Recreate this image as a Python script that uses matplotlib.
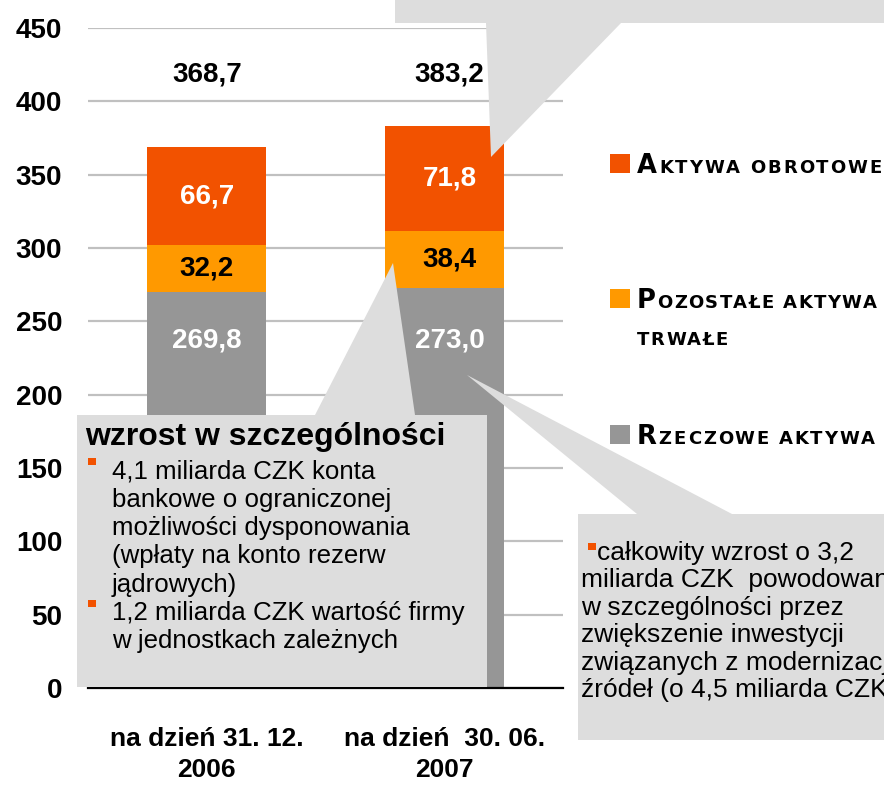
import matplotlib
matplotlib.use('Agg')
import matplotlib.pyplot as plt
from matplotlib.patches import Polygon, Rectangle
from matplotlib.font_manager import findfont, FontProperties, get_font
import numpy as np

# ---------------- data ----------------
categories = ['na dzień 31. 12.\n2006', 'na dzień  30. 06.\n2007']
rzeczowe = [269.8, 273.0]      # grey
pozostale = [32.2, 38.4]       # amber
obrotowe = [66.7, 71.8]        # orange
totals = [368.7, 383.2]
y_ticks = [0, 50, 100, 150, 200, 250, 300, 350, 400, 450]
y_tick_labels = ['0', '50', '100', '150', '200', '250', '300', '350', '400', '450']
value_fmt = lambda v: f'{v:.1f}'.replace('.', ',')

left_title = 'wzrost w szczególności'
left_lines = ['4,1 miliarda CZK konta', 'bankowe o ograniczonej',
              'możliwości dysponowania', '(wpłaty na konto rezerw',
              'jądrowych)', '1,2 miliarda CZK wartość firmy',
              'w jednostkach zależnych']
left_bullets = [0, 5]
right_lines = ['całkowity wzrost o 3,2', 'miliarda CZK  powodowany',
               'w szczególności przez', 'zwiększenie inwestycji',
               'związanych z modernizacją', 'źródeł (o 4,5 miliarda CZK)']

C_OR = '#F25200'
C_AM = '#FF9900'
C_GR = '#969696'
C_CALL = '#DDDDDD'
C_GRID = '#C0C0C0'

W, H = 884, 786
DPI = 100
fig = plt.figure(figsize=(W / DPI, H / DPI), dpi=DPI)
ax = fig.add_axes([88 / W, (H - 688) / H, (563 - 88) / W, 660 / H])

x = np.arange(len(categories))
bw = 0.5
b1 = np.array(rzeczowe)
b2 = b1 + np.array(pozostale)
ax.bar(x, rzeczowe, width=bw, color=C_GR, zorder=2)
ax.bar(x, pozostale, width=bw, bottom=b1, color=C_AM, zorder=2)
ax.bar(x, obrotowe, width=bw, bottom=b2, color=C_OR, zorder=2)

ax.set_xlim(-0.5, 1.5)
ax.set_ylim(0, 450)
ax.set_yticks(y_ticks)
ax.set_yticklabels(y_tick_labels, fontsize=20, fontweight='bold', family='Liberation Sans')
ax.set_xticks(x)
ax.set_xticklabels(categories, fontsize=19, fontweight='bold', family='Liberation Sans',
                   linespacing=1.38)
ax.tick_params(axis='y', length=0, pad=18.5)
ax.tick_params(axis='x', length=0, pad=28)
ax.yaxis.grid(True, color=C_GRID, lw=1.6)
ax.set_axisbelow(True)
for s in ['left', 'right', 'top']:
    ax.spines[s].set_visible(False)
ax.spines['bottom'].set_color('black')
ax.spines['bottom'].set_linewidth(1.6)

fp = dict(fontsize=20, fontweight='bold', family='Liberation Sans', ha='center', va='center')
dx = [0.0, 0.022]
for i in range(len(x)):
    ax.text(x[i] + dx[i], 418, value_fmt(totals[i]), color='black', **fp)
    ax.text(x[i] + dx[i], b2[i] + obrotowe[i] / 2, value_fmt(obrotowe[i]), color='white', **fp)
    ax.text(x[i] + dx[i], b1[i] + pozostale[i] / 2, value_fmt(pozostale[i]), color='black', **fp)
    ax.text(x[i] + dx[i], 237, value_fmt(rzeczowe[i]), color='white', **fp)

# ---------------- overlay (pixel coords) ----------------
ov = fig.add_axes([0, 0, 1, 1], zorder=5)
ov.set_xlim(0, W)
ov.set_ylim(H, 0)
ov.axis('off')

callouts = [
    [(395, -5), (895, -5), (895, 23), (621, 23), (491, 157), (486, 23), (395, 23)],
    [(77, 415), (315, 415), (393, 263), (415, 415), (487, 415), (487, 687), (77, 687)],
    [(578, 514), (637, 514), (467, 375), (732, 514), (895, 514), (895, 740), (578, 740)],
]
for poly in callouts:
    ov.add_patch(Polygon(poly, closed=True, facecolor=C_CALL, edgecolor='none'))

tf = dict(family='Liberation Sans', va='baseline', ha='left', color='black')
ov.text(85, 445, left_title, fontsize=23, fontweight='bold', **tf)
lbase = [478, 507, 535, 563, 592, 620, 648]
for i, (ln, yb) in enumerate(zip(left_lines, lbase)):
    ov.text(112, yb, ln, fontsize=18.6, **tf)
    if i in left_bullets:
        ov.add_patch(Rectangle((88, yb - 20), 8, 7, facecolor=C_OR, edgecolor='none'))

rbase = [560, 587, 615, 642, 670, 697]
for i, (ln, yb) in enumerate(zip(right_lines, rbase)):
    xs = 597 if i == 0 else 581
    ov.text(xs, yb, ln, fontsize=19, **tf)
ov.add_patch(Rectangle((588, 543), 8, 7, facecolor=C_OR, edgecolor='none'))

# ---------------- legend with tracked small caps ----------------
LFONT = FontProperties(family='DejaVu Sans', weight='bold')
ftfont = get_font(findfont(LFONT))


def advance(ch, size):
    ftfont.set_size(size, DPI)
    g = ftfont.load_char(ord(ch))
    return g.linearHoriAdvance / 65536.0


def smallcaps_line(x0, yb, big, rest, x_end, bigsize=18.5, smallsize=13):
    chars = [(big, bigsize)] if big else []
    chars += [(c, smallsize) for c in rest]
    nat = sum(advance(c, s) for c, s in chars)
    gaps = len(chars) - 1
    last_adv = advance(chars[-1][0], chars[-1][1])
    track = (x_end - x0 - nat) / gaps if gaps else 0
    xx = x0
    for c, s in chars:
        if c != ' ':
            ov.text(xx, yb, c, fontsize=s, fontproperties=None, family='DejaVu Sans',
                    fontweight='bold', va='baseline', ha='left', color='black')
        xx += advance(c, s) + track


legend_items = [
    (C_OR, 154, [('A', 'KTYWA OBROTOWE', 882)]),
    (C_AM, 289, [('P', 'OZOSTAŁE AKTYWA', 877), ('', 'TRWAŁE', 728)]),
    (C_GR, 425, [('R', 'ZECZOWE AKTYWA', 875)]),
]
for col, ytop, lines in legend_items:
    ov.add_patch(Rectangle((610, ytop), 20, 19, facecolor=col, edgecolor='none'))
    for j, (bg, rs, xe) in enumerate(lines):
        smallcaps_line(637, ytop + 19 + 37 * j, bg, rs, xe)

fig.savefig('out.png', dpi=DPI)
